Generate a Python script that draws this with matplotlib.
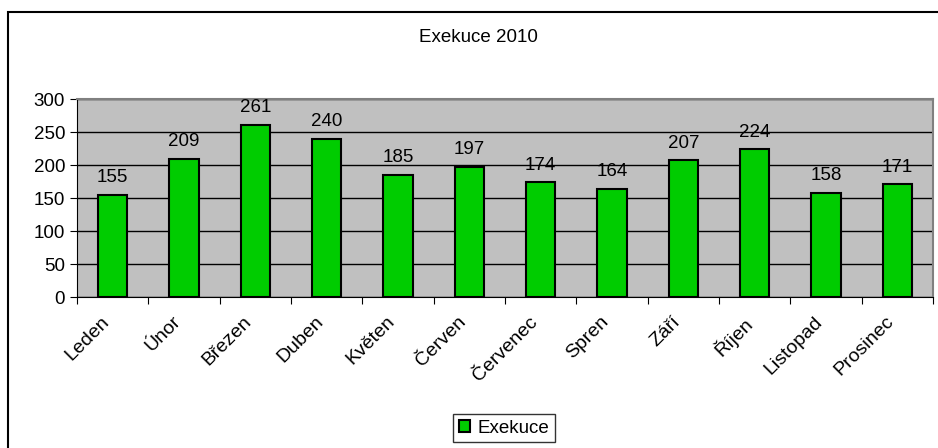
import matplotlib.pyplot as plt
import matplotlib.transforms as mtransforms
from matplotlib.patches import Rectangle

months = ['Leden', 'Únor', 'Březen', 'Duben', 'Květen', 'Červen',
          'Červenec', 'Spren', 'Září', 'Říjen', 'Listopad', 'Prosinec']
values = [155, 209, 261, 240, 185, 197, 174, 164, 207, 224, 158, 171]

plt.rcParams['font.family'] = ['Liberation Sans', 'DejaVu Sans']
plt.rcParams['font.size'] = 13.5

fig = plt.figure(figsize=(9.38, 4.48), dpi=100)
ax = fig.add_axes([77 / 938, 1 - 297 / 448, 856 / 938, 198 / 448])

# outer chart border
fig.patches.append(Rectangle((8 / 938, -0.1), 1.2, 1 - 12 / 448 + 0.1,
                             transform=fig.transFigure, fill=False,
                             edgecolor='black', linewidth=1.5))

x = list(range(len(months)))
bars = ax.bar(x, values, width=0.41, color='#00CC00', edgecolor='black',
              linewidth=1.5, label='Exekuce', zorder=3)
for xi, v in zip(x, values):
    ax.text(xi, v + 13, str(v), ha='center', va='bottom', fontsize=13.5)

ax.set_facecolor('#C0C0C0')
ax.set_xlim(-0.5, len(months) - 0.5)
ax.set_ylim(0, 300)
ax.set_yticks(range(0, 301, 50))
ax.yaxis.grid(True, color='black', linewidth=1)
ax.set_axisbelow(True)

ax.set_xticks([i - 0.5 for i in range(len(months) + 1)], minor=False)
ax.set_xticklabels([])
ax.set_xticks(x, minor=True)
ax.set_xticklabels(months, minor=True, rotation=45, ha='right',
                   rotation_mode='anchor', fontsize=14)
ax.tick_params(axis='x', which='minor', length=0, pad=6)
ax.tick_params(axis='x', which='major', length=5, direction='out')
ax.tick_params(axis='y', length=5, direction='out', labelsize=13.5)

# shift the rotated month labels a bit down-left like the original
offset = mtransforms.ScaledTranslation(-12 / 100, -8 / 100, fig.dpi_scale_trans)
for lbl in ax.get_xticklabels(minor=True):
    lbl.set_transform(lbl.get_transform() + offset)

for side in ['top', 'right']:
    ax.spines[side].set_color('#808080')
    ax.spines[side].set_linewidth(1.5)
ax.spines['left'].set_color('black')
ax.spines['bottom'].set_color('black')

fig.text(478 / 938, 1 - 37 / 448, 'Exekuce 2010', ha='center', va='center',
         fontsize=13.5)

fig.legend(handles=[bars], labels=['Exekuce'], loc='center',
           bbox_to_anchor=(504 / 938, 1 - 428 / 448), frameon=True,
           fancybox=False, edgecolor='black', fontsize=13.5,
           handlelength=0.6, handleheight=0.6, handletextpad=0.4,
           borderpad=0.3)

fig.savefig('out.png', dpi=100)
